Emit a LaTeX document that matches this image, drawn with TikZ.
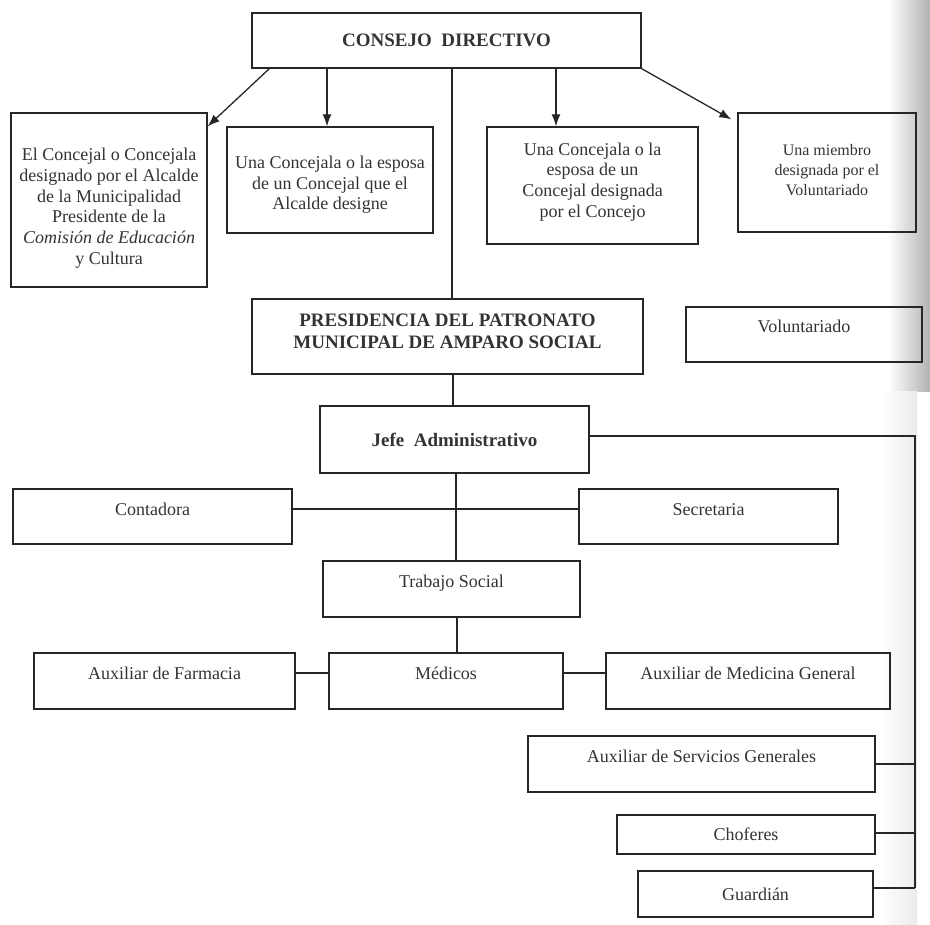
\documentclass[tikz,border=0pt]{standalone}
\usepackage{fontspec}
\setmainfont{Liberation Serif}
\usetikzlibrary{arrows.meta}

\begin{document}
\begin{tikzpicture}[x=1pt,y=-1pt,
  every node/.style={text=black!80},
  box/.style={draw=black!85, line width=1.3pt, inner sep=0pt, align=center,
    font=\fontsize{18}{20.8}\selectfont},
  head/.style={box, font=\fontsize{19}{22}\selectfont\bfseries},
  upper/.style={text height=12pt, text depth=15pt},
  link/.style={draw=black!85, line width=1.3pt},
  arr/.style={link, -{Latex[length=12pt,width=9pt]}}]
\useasboundingbox (0,0) rectangle (930,925);

% sombra del escaneo
\shade[left color=white, right color=black!30] (888,0) rectangle (930,392);
\shade[left color=white, right color=black!8] (880,392) rectangle (917,925);

% consejo y sus miembros
\node[head, minimum width=389pt, minimum height=55pt] (consejo) at (446.5,40.5) {CONSEJO\ \ DIRECTIVO};
\node[box, minimum width=196pt, minimum height=174pt, text height=129pt, text depth=0pt] (concejal) at (109,200)
  {El Concejal o Concejala\\ designado por el Alcalde\\ de la Municipalidad\\ Presidente de la\\ \textit{Comisión de Educación}\\ y Cultura};
\node[box, minimum width=206pt, minimum height=106pt, text height=64pt, text depth=4pt] (esposaA) at (330,180)
  {Una Concejala o la esposa\\ de un Concejal que el\\ Alcalde designe};
\node[box, minimum width=211pt, minimum height=117pt, text depth=11pt] (esposaB) at (592.5,185.5)
  {Una Concejala o la\\ esposa de un\\ Concejal designada\\ por el Concejo};
\node[box, minimum width=178pt, minimum height=119pt, text depth=5pt, font=\fontsize{16}{20}\selectfont] (miembro) at (827,172.5)
  {Una miembro\\ designada por el\\ Voluntariado};

% presidencia
\node[head, minimum width=391pt, minimum height=75pt, text depth=11pt] (presidencia) at (447.5,336.5)
  {PRESIDENCIA DEL PATRONATO\\ MUNICIPAL DE AMPARO SOCIAL};
\node[box, upper, minimum width=236pt, minimum height=55pt] (voluntariado) at (804,334.5) {Voluntariado};

% personal
\node[head, minimum width=269pt, minimum height=67pt] (jefe) at (454.5,439.5) {Jefe\ \ Administrativo};
\node[box, upper, minimum width=279pt, minimum height=55pt] (contadora) at (152.5,516.5) {Contadora};
\node[box, upper, minimum width=259pt, minimum height=55pt] (secretaria) at (708.5,516.5) {Secretaria};
\node[box, upper, minimum width=257pt, minimum height=56pt] (trabajo) at (451.5,589) {Trabajo Social};
\node[box, upper, minimum width=261pt, minimum height=56pt] (farmacia) at (164.5,681) {Auxiliar de Farmacia};
\node[box, upper, minimum width=234pt, minimum height=56pt] (medicos) at (446,681) {Médicos};
\node[box, upper, minimum width=284pt, minimum height=56pt] (medicina) at (748,681) {Auxiliar de Medicina General};
\node[box, upper, minimum width=347pt, minimum height=56pt] (servicios) at (701.5,764) {Auxiliar de Servicios Generales};
\node[box, minimum width=258pt, minimum height=39pt] (choferes) at (746,834.5) {Choferes};
\node[box, minimum width=235pt, minimum height=46pt] (guardian) at (755.5,894) {Guardián};

% flechas del consejo
\draw[arr] ([xshift=18pt]consejo.south west) -- ([yshift=-14pt]concejal.north east);
\draw[arr] ([xshift=-119.5pt]consejo.south) -- ([xshift=-3pt]esposaA.north);
\draw[arr] ([xshift=109.5pt]consejo.south) -- ([xshift=-36.5pt]esposaB.north);
\draw[arr] (consejo.south east) -- ([xshift=-6pt,yshift=-7pt]miembro.north west);

% lineas
\draw[link] ([xshift=5.5pt]consejo.south) -- ([xshift=4.5pt]presidencia.north);
\draw[link] ([xshift=5.5pt]presidencia.south) -- ([xshift=-1.5pt]jefe.north);
\draw[link] ([xshift=1.5pt]jefe.south) -- ([xshift=4.5pt]trabajo.north);
\draw[link] ([yshift=7.5pt]contadora.east) -- ([yshift=7.5pt]secretaria.west);
\draw[link] ([xshift=5.5pt]trabajo.south) -- ([xshift=11pt]medicos.north);
\draw[link] ([yshift=8pt]farmacia.east) -- ([yshift=8pt]medicos.west);
\draw[link] ([yshift=8pt]medicos.east) -- ([yshift=8pt]medicina.west);

% linea de la derecha
\coordinate (rail) at (915,888);
\draw[link] ([yshift=3.5pt]jefe.east) -| (rail);
\draw[link] (servicios.east) -- (servicios.east -| rail);
\draw[link] ([yshift=1.5pt]choferes.east) -- ([yshift=1.5pt]choferes.east -| rail);
\draw[link] ([yshift=6pt]guardian.east) -- (rail);
\end{tikzpicture}
\end{document}
